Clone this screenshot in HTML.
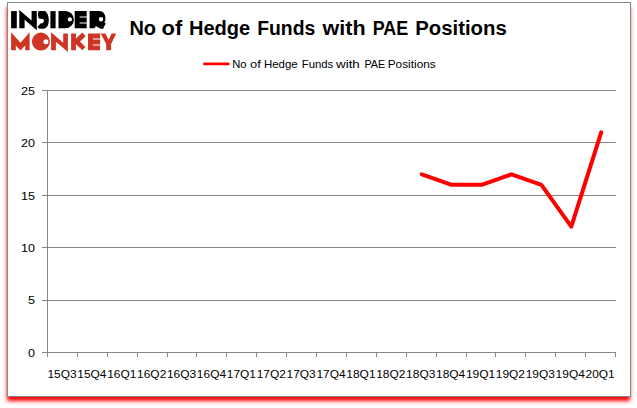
<!DOCTYPE html>
<html><head><meta charset="utf-8"><title>chart</title>
<style>
html,body{margin:0;padding:0;background:#fff;}
body{width:637px;height:408px;overflow:hidden;position:relative;font-family:"Liberation Sans",sans-serif;}
#frame{position:absolute;left:7px;top:2px;width:622px;height:393px;border:1px solid #868686;background:#fff;box-shadow:-0.5px 4.6px 4px -0.5px #ff0000;}
svg{position:absolute;left:0;top:0;}
svg text{font-family:"Liberation Sans",sans-serif;fill:#000;}
</style></head><body>
<div id="frame"></div>
<svg width="637" height="408" viewBox="0 0 637 408">
<g stroke="#868686" stroke-width="1" fill="none" shape-rendering="crispEdges">
<line x1="42" y1="352.5" x2="616.0" y2="352.5"/>
<line x1="42" y1="300.1" x2="616.0" y2="300.1"/>
<line x1="42" y1="247.7" x2="616.0" y2="247.7"/>
<line x1="42" y1="195.3" x2="616.0" y2="195.3"/>
<line x1="42" y1="142.9" x2="616.0" y2="142.9"/>
<line x1="42" y1="90.5" x2="616.0" y2="90.5"/>
<line x1="47.5" y1="90" x2="47.5" y2="357"/>
<line x1="47.50" y1="352.5" x2="47.50" y2="357"/>
<line x1="77.39" y1="352.5" x2="77.39" y2="357"/>
<line x1="107.29" y1="352.5" x2="107.29" y2="357"/>
<line x1="137.19" y1="352.5" x2="137.19" y2="357"/>
<line x1="167.08" y1="352.5" x2="167.08" y2="357"/>
<line x1="196.97" y1="352.5" x2="196.97" y2="357"/>
<line x1="226.87" y1="352.5" x2="226.87" y2="357"/>
<line x1="256.76" y1="352.5" x2="256.76" y2="357"/>
<line x1="286.66" y1="352.5" x2="286.66" y2="357"/>
<line x1="316.56" y1="352.5" x2="316.56" y2="357"/>
<line x1="346.45" y1="352.5" x2="346.45" y2="357"/>
<line x1="376.34" y1="352.5" x2="376.34" y2="357"/>
<line x1="406.24" y1="352.5" x2="406.24" y2="357"/>
<line x1="436.13" y1="352.5" x2="436.13" y2="357"/>
<line x1="466.03" y1="352.5" x2="466.03" y2="357"/>
<line x1="495.93" y1="352.5" x2="495.93" y2="357"/>
<line x1="525.82" y1="352.5" x2="525.82" y2="357"/>
<line x1="555.71" y1="352.5" x2="555.71" y2="357"/>
<line x1="585.61" y1="352.5" x2="585.61" y2="357"/>
<line x1="615.50" y1="352.5" x2="615.50" y2="357"/>
</g>
<g font-size="11.4">
<text x="27.9" y="356.8" textLength="7.0" lengthAdjust="spacingAndGlyphs">0</text>
<text x="27.9" y="304.4" textLength="7.0" lengthAdjust="spacingAndGlyphs">5</text>
<text x="20.9" y="252.0" textLength="14.0" lengthAdjust="spacingAndGlyphs">10</text>
<text x="20.9" y="199.6" textLength="14.0" lengthAdjust="spacingAndGlyphs">15</text>
<text x="20.9" y="147.2" textLength="14.0" lengthAdjust="spacingAndGlyphs">20</text>
<text x="20.9" y="94.8" textLength="14.0" lengthAdjust="spacingAndGlyphs">25</text>
<text x="47.40" y="378.2" textLength="29.2" lengthAdjust="spacingAndGlyphs">15Q3</text>
<text x="77.30" y="378.2" textLength="29.2" lengthAdjust="spacingAndGlyphs">15Q4</text>
<text x="107.19" y="378.2" textLength="29.2" lengthAdjust="spacingAndGlyphs">16Q1</text>
<text x="137.09" y="378.2" textLength="29.2" lengthAdjust="spacingAndGlyphs">16Q2</text>
<text x="166.98" y="378.2" textLength="29.2" lengthAdjust="spacingAndGlyphs">16Q3</text>
<text x="196.88" y="378.2" textLength="29.2" lengthAdjust="spacingAndGlyphs">16Q4</text>
<text x="226.77" y="378.2" textLength="29.2" lengthAdjust="spacingAndGlyphs">17Q1</text>
<text x="256.66" y="378.2" textLength="29.2" lengthAdjust="spacingAndGlyphs">17Q2</text>
<text x="286.56" y="378.2" textLength="29.2" lengthAdjust="spacingAndGlyphs">17Q3</text>
<text x="316.45" y="378.2" textLength="29.2" lengthAdjust="spacingAndGlyphs">17Q4</text>
<text x="346.35" y="378.2" textLength="29.2" lengthAdjust="spacingAndGlyphs">18Q1</text>
<text x="376.24" y="378.2" textLength="29.2" lengthAdjust="spacingAndGlyphs">18Q2</text>
<text x="406.14" y="378.2" textLength="29.2" lengthAdjust="spacingAndGlyphs">18Q3</text>
<text x="436.03" y="378.2" textLength="29.2" lengthAdjust="spacingAndGlyphs">18Q4</text>
<text x="465.93" y="378.2" textLength="29.2" lengthAdjust="spacingAndGlyphs">19Q1</text>
<text x="495.82" y="378.2" textLength="29.2" lengthAdjust="spacingAndGlyphs">19Q2</text>
<text x="525.72" y="378.2" textLength="29.2" lengthAdjust="spacingAndGlyphs">19Q3</text>
<text x="555.61" y="378.2" textLength="29.2" lengthAdjust="spacingAndGlyphs">19Q4</text>
<text x="585.51" y="378.2" textLength="29.2" lengthAdjust="spacingAndGlyphs">20Q1</text>
</g>
<g font-size="20" font-weight="bold"><text x="129.40" y="34.5" textLength="26.66" lengthAdjust="spacingAndGlyphs">No</text><text x="161.47" y="34.5" textLength="20.78" lengthAdjust="spacingAndGlyphs">of</text><text x="188.96" y="34.5" textLength="61.31" lengthAdjust="spacingAndGlyphs">Hedge</text><text x="257.20" y="34.5" textLength="58.08" lengthAdjust="spacingAndGlyphs">Funds</text><text x="322.50" y="34.5" textLength="43.04" lengthAdjust="spacingAndGlyphs">with</text><text x="372.69" y="34.5" textLength="35.60" lengthAdjust="spacingAndGlyphs">PAE</text><text x="415.22" y="34.5" textLength="91.55" lengthAdjust="spacingAndGlyphs">Positions</text></g>
<line x1="204.4" y1="63.9" x2="228.3" y2="63.9" stroke="#ff0000" stroke-width="2.7" stroke-linecap="round"/>
<g font-size="11.3"><text x="232.18" y="67.9" textLength="14.36" lengthAdjust="spacingAndGlyphs">No</text><text x="249.98" y="67.9" textLength="10.77" lengthAdjust="spacingAndGlyphs">of</text><text x="263.96" y="67.9" textLength="33.80" lengthAdjust="spacingAndGlyphs">Hedge</text><text x="301.71" y="67.9" textLength="31.55" lengthAdjust="spacingAndGlyphs">Funds</text><text x="336.00" y="67.9" textLength="23.78" lengthAdjust="spacingAndGlyphs">with</text><text x="364.44" y="67.9" textLength="20.84" lengthAdjust="spacingAndGlyphs">PAE</text><text x="387.73" y="67.9" textLength="48.03" lengthAdjust="spacingAndGlyphs">Positions</text></g>
<polyline points="421.8,174.3 451.7,184.8 481.6,184.8 511.5,174.3 541.4,184.8 571.3,226.7 601.2,132.4" fill="none" stroke="#ff0000" stroke-width="4" stroke-linecap="round" stroke-linejoin="round"/>
<g id="logo">
<g fill="#000">
<rect x="11.1" y="11.1" width="5.7" height="17.2"/>
<polygon points="19.3,10.1 31.6,20.6 31.6,11.1 36.8,11.1 36.8,30.2 24.6,19.7 24.6,28.3 19.3,28.3"/>
<path d="M39.5 11.1 L45 11.1 C47.4 12.5 48.8 16.3 48.8 20 C48.8 24.8 46.8 28.8 43.3 28.8 L39.6 28.8 L37.4 26.9 L40.5 23.4 L42.9 23 C43.6 22.4 43.9 21.6 43.9 20.9 C43.9 19.8 43.5 19.1 43 19 L39.8 18.8 C38.5 18.1 38 17 38 16 L38 13.3 C38 12 38.7 11.1 39.5 11.1 Z"/>
<rect x="50.4" y="11.1" width="5.2" height="17.2"/>
<path fill-rule="evenodd" d="M58.5 11.1 L65.3 11.1 A8.6 8.6 0 0 1 65.3 28.3 L58.5 28.3 Z M72 19.4 A2.1 2.1 0 1 0 67.8 19.4 A2.1 2.1 0 1 0 72 19.4 Z"/>
<path fill-rule="evenodd" d="M74.7 11.1 H86.7 V28.3 H74.7 Z M79.6 16.4 H86.7 V17.4 H79.6 Z M79.6 22.6 H86.7 V23.6 H79.6 Z"/>
<path fill-rule="evenodd" d="M89.6 11.1 L99.5 11.1 C103.2 11.1 105.4 14.5 105.4 18 C105.4 20 105 21.5 104.4 22.8 L105.8 23.3 L102.9 29 C100.5 28.8 98 27.8 96 26 L94.3 28.3 L89.6 28.3 Z M103.2 19.2 A2.2 2.2 0 1 0 98.8 19.2 A2.2 2.2 0 1 0 103.2 19.2 Z"/>
</g>
<g fill="#cf3524">
<polygon points="11.1,32.3 20.5,42.7 29.6,32.3 29.6,50.2 25.2,50.2 25.2,45.5 20.5,50.4 15.8,45.5 15.8,50.2 11.1,50.2"/>
<path fill-rule="evenodd" d="M49.9 41.6 A9 9 0 1 0 31.9 41.6 A9 9 0 1 0 49.9 41.6 Z M48.4 41.8 A2.5 2.5 0 1 0 43.4 41.8 A2.5 2.5 0 1 0 48.4 41.8 Z"/>
<polygon points="51.1,32.2 63.2,42.8 63.2,33.4 67.9,33.4 67.9,52 55.9,41.7 55.9,50.3 51.1,50.3"/>
<polygon points="71.1,33.4 75.9,33.4 75.9,38.6 82.4,32.6 85.7,36.2 80,41.6 85.4,47 82.4,50.2 75.9,44.2 75.9,50.3 71.1,50.3"/>
<path fill-rule="evenodd" d="M88 33.4 H100.1 V50.3 H88 Z M93 38.5 H100.1 V39.5 H93 Z M93 44.5 H100.1 V45.5 H93 Z"/>
<polygon points="100.6,33.4 105.3,33.4 108.7,39.8 111.6,33.4 116.2,33.4 111.1,43.9 111.1,50.3 106.2,50.3 106.2,43.9"/>
</g>
</g>

</svg>
</body></html>
